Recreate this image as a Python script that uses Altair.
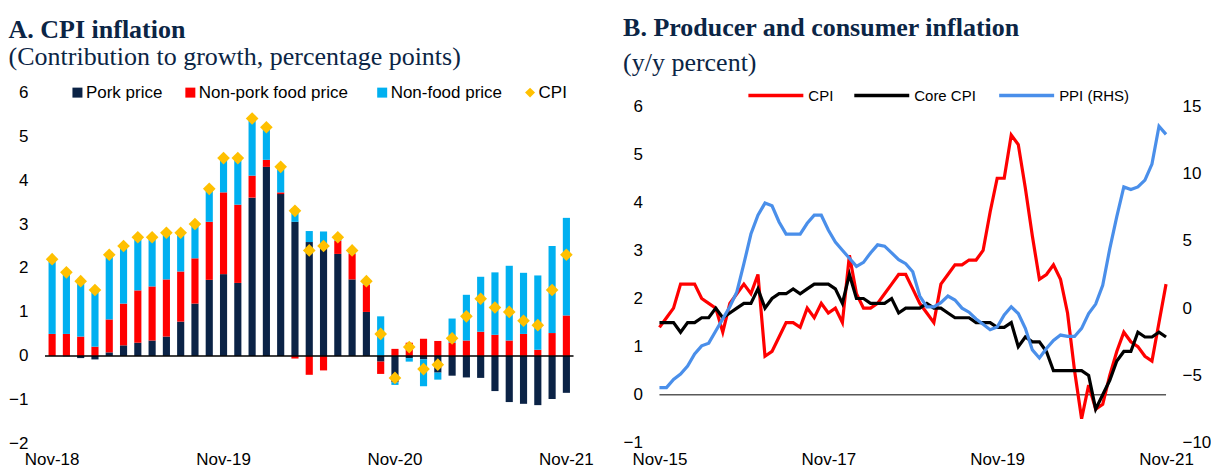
import altair as alt
import pandas as pd

# ---------------- Panel A data (Nov-18 .. Nov-21) ----------------
MON = ["Jan", "Feb", "Mar", "Apr", "May", "Jun", "Jul", "Aug", "Sep", "Oct", "Nov", "Dec"]
months_left = []
for k in range(37):
    m = (10 + k) % 12
    yr = 18 + (10 + k) // 12
    months_left.append(f"{MON[m]}-{yr:02d}")
left_tick_labels = ["Nov-18", "Nov-19", "Nov-20", "Nov-21"]

pork = [0.0, -0.01, -0.05, -0.08, 0.08, 0.24, 0.30, 0.35, 0.44, 0.78, 1.19, 1.73, 1.86,
        1.66, 3.60, 4.30, 3.68, 3.05, 2.59, 2.50, 2.32, 1.74, 1.00, -0.13, -0.60, -0.05,
        -0.08, -0.38, -0.45, -0.49, -0.50, -0.80, -1.05, -1.09, -1.12, -0.98, -0.84]
nonpork_food = [0.50, 0.50, 0.44, 0.21, 0.75, 0.95, 1.19, 1.23, 1.30, 1.14, 1.03, 1.32, 1.86,
                1.78, 0.50, 0.16, 0.04, -0.06, -0.43, -0.33, 0.30, 0.58, 0.62, -0.28, 0.16, 0.30,
                0.39, 0.34, 0.30, 0.35, 0.55, 0.48, 0.35, 0.50, 0.14, 0.52, 0.92]
nonfood = [1.68, 1.38, 1.28, 1.33, 1.45, 1.28, 1.18, 1.09, 1.03, 0.85, 0.75, 0.72, 0.75,
           1.03, 1.27, 0.71, 0.55, 0.31, 0.25, 0.33, 0.08, 0.08, 0.08, 0.90, -0.06, -0.08,
           -0.61, -0.16, 0.55, 1.04, 1.25, 1.42, 1.70, 1.39, 1.69, 1.98, 2.22]
cpi_left = [2.2, 1.9, 1.7, 1.5, 2.3, 2.5, 2.7, 2.7, 2.8, 2.8, 3.0, 3.8, 4.5,
            4.5, 5.4, 5.2, 4.3, 3.3, 2.4, 2.5, 2.7, 2.4, 1.7, 0.5, -0.5, 0.2,
            -0.3, -0.2, 0.4, 0.9, 1.3, 1.1, 1.0, 0.8, 0.7, 1.5, 2.3]

series_left = ["Pork price", "Non-pork food price", "Non-food price", "CPI"]
colors_left = ["#0B2346", "#FF0000", "#00B0F0", "#FFC000"]

# ---------------- Panel B data (Nov-15 .. Nov-21, monthly) ----------------
cpi = [1.4, 1.6,
       1.8, 2.3, 2.3, 2.3, 2.0, 1.9, 1.8, 1.3, 1.9, 2.1, 2.3, 2.1,
       2.5, 0.8, 0.9, 1.2, 1.5, 1.5, 1.4, 1.8, 1.6, 1.9, 1.7, 1.8,
       1.5, 2.9, 2.1, 1.8, 1.8, 1.9, 2.1, 2.3, 2.5, 2.5, 2.2, 1.9,
       1.7, 1.5, 2.3, 2.5, 2.7, 2.7, 2.8, 2.8, 3.0, 3.8, 4.5, 4.5,
       5.4, 5.2, 4.3, 3.3, 2.4, 2.5, 2.7, 2.4, 1.7, 0.5, -0.5, 0.2,
       -0.3, -0.2, 0.4, 0.9, 1.3, 1.1, 1.0, 0.8, 0.7, 1.5, 2.3]
core_cpi = [1.5, 1.5,
            1.5, 1.3, 1.5, 1.5, 1.6, 1.6, 1.8, 1.6, 1.7, 1.8, 1.9, 1.9,
            2.2, 1.8, 2.0, 2.1, 2.1, 2.2, 2.1, 2.2, 2.3, 2.3, 2.3, 2.2,
            1.9, 2.5, 2.0, 2.0, 1.9, 1.9, 1.9, 2.0, 1.7, 1.8, 1.8, 1.8,
            1.9, 1.8, 1.8, 1.7, 1.6, 1.6, 1.6, 1.5, 1.5, 1.5, 1.4, 1.4,
            1.5, 1.0, 1.2, 1.1, 1.1, 0.9, 0.5, 0.5, 0.5, 0.5, 0.5, 0.4,
            -0.3, 0.0, 0.3, 0.7, 0.9, 0.9, 1.3, 1.2, 1.2, 1.3, 1.2]
ppi = [-5.9, -5.9,
       -5.3, -4.9, -4.3, -3.4, -2.8, -2.6, -1.7, -0.8, 0.1, 1.2, 3.3, 5.5,
       6.9, 7.8, 7.6, 6.4, 5.5, 5.5, 5.5, 6.3, 6.9, 6.9, 5.8, 4.9,
       4.3, 3.7, 3.1, 3.4, 4.1, 4.7, 4.6, 4.1, 3.6, 3.3, 2.7, 0.9,
       0.1, 0.1, 0.4, 0.9, 0.6, 0.0, -0.3, -0.8, -1.2, -1.6, -1.4, -0.5,
       0.1, -0.4, -1.5, -3.1, -3.7, -3.0, -2.4, -2.0, -2.1, -2.1, -1.5, -0.4,
       0.3, 1.7, 4.4, 6.8, 9.0, 8.8, 9.0, 9.5, 10.7, 13.5, 12.9]
right_tick_labels = ["Nov-15", "Nov-17", "Nov-19", "Nov-21"]
series_right = ["CPI", "Core CPI", "PPI (RHS)"]
colors_right = ["#FF0000", "#000000", "#4A8FEA"]

NAVY = "#0B2545"
LABEL_FONT = "Liberation Sans"
TITLE_FONT = "Liberation Serif"

# ---------------- Panel A ----------------
rows = []
for i, mth in enumerate(months_left):
    for k, vals in enumerate([pork, nonpork_food, nonfood]):
        rows.append({"month": mth, "series": series_left[k], "value": vals[i], "order": k})
bars_df = pd.DataFrame(rows)
cpi_df = pd.DataFrame({"month": months_left, "series": series_left[3], "value": cpi_left})

LEFT_LEGEND_X = [24, 137, 329, 477]


def left_color(k, shape):
    return alt.Color("series:N",
                     scale=alt.Scale(domain=[series_left[k]], range=[colors_left[k]]),
                     legend=alt.Legend(orient="none", legendX=LEFT_LEGEND_X[k], legendY=-8,
                                       title=None, symbolType=shape, symbolSize=100,
                                       symbolStrokeWidth=0, labelFont=LABEL_FONT,
                                       labelFontSize=17, labelColor="#000000",
                                       labelOffset=0, labelLimit=300))


x_left = alt.X("month:O", sort=months_left,
               scale=alt.Scale(domain=months_left, paddingInner=0.5, paddingOuter=0.25),
               axis=alt.Axis(values=left_tick_labels, labelAngle=0, title=None, domain=False,
                             ticks=False, labelPadding=8))
y_axis_left = alt.Axis(values=list(range(-2, 7)), grid=False, domain=False, ticks=False,
                       title=None, labelPadding=17)
y_scale_left = alt.Scale(domain=[-2, 6], nice=False)

stacked = alt.Chart(bars_df).transform_stack(
    stack="value", groupby=["month"], as_=["v0", "v1"],
    sort=[alt.SortField("order", order="ascending")])

bar_layers = []
for k in range(3):
    bar_layers.append(
        stacked.transform_filter(alt.datum.series == series_left[k]).mark_bar().encode(
            x=x_left,
            y=alt.Y("v0:Q", scale=y_scale_left, axis=y_axis_left),
            y2="v1:Q",
            color=left_color(k, "square")))

zero_left = alt.Chart(pd.DataFrame({"value": [0]})).mark_rule(
    color="#000000", strokeWidth=1.5).encode(y=alt.Y("value:Q", scale=y_scale_left))
diamonds = alt.Chart(cpi_df).mark_point(filled=True, size=160, opacity=1, shape="diamond").encode(
    x=alt.X("month:O", sort=months_left),
    y=alt.Y("value:Q", scale=y_scale_left),
    color=left_color(3, "diamond"))

left_chart = alt.layer(*bar_layers, zero_left, diamonds).resolve_scale(
    color="independent").properties(
    width=529, height=352,
    title=alt.TitleParams(text="A. CPI inflation",
                          subtitle="(Contribution to growth, percentage points)",
                          anchor="start", frame="bounds",
                          font=TITLE_FONT, fontSize=26, fontWeight="bold", color=NAVY,
                          subtitleFont=TITLE_FONT, subtitleFontSize=26, subtitleColor=NAVY,
                          subtitlePadding=1, offset=13))

# ---------------- Panel B ----------------
idx = list(range(len(cpi)))
cpi_r = pd.DataFrame({"i": idx, "value": cpi, "series": series_right[0]})
core_r = pd.DataFrame({"i": idx, "value": core_cpi, "series": series_right[1]})
ppi_r = pd.DataFrame({"i": idx, "value": ppi, "series": series_right[2]})

label_expr = "[" + ",".join(f"'{t}'" for t in right_tick_labels) + "][round(datum.value/24)]"
x_right = alt.X("i:Q", scale=alt.Scale(domain=[0, 72], nice=False, zero=False),
                axis=alt.Axis(values=[0, 24, 48, 72], labelExpr=label_expr, grid=False,
                              labelFlush=False, domain=False, ticks=False, title=None,
                              labelPadding=9))
# plot area is 14px taller than the -1..6 span so that its top sits 14px above the "6" label
LHS_TOP = 6 + 14 / (337 / 7)
RHS_TOP = 15 + 14 / (337 / 25)
y_lhs = alt.Y("value:Q", scale=alt.Scale(domain=[-1, LHS_TOP], nice=False),
              axis=alt.Axis(values=list(range(-1, 7)), orient="left", grid=False, domain=False,
                            ticks=False, title=None, labelPadding=17))
y_rhs = alt.Y("value:Q", scale=alt.Scale(domain=[-10, RHS_TOP], nice=False),
              axis=alt.Axis(values=[-10, -5, 0, 5, 10, 15], orient="right", grid=False,
                            domain=False, ticks=False, title=None, labelPadding=16))


def line_color(k, lx):
    return alt.Color("series:N",
                     scale=alt.Scale(domain=[series_right[k]], range=[colors_right[k]]),
                     legend=alt.Legend(orient="none", legendX=lx, legendY=-4,
                                       title=None, symbolType="M-5.5,0H5.5", symbolSize=100,
                                       symbolStrokeWidth=3.5, labelFont=LABEL_FONT,
                                       labelFontSize=15, labelColor="#000000",
                                       labelOffset=25, labelLimit=300))


zero_right = alt.Chart(pd.DataFrame({"value": [0]})).mark_rule(
    color="#595959", strokeWidth=1.5).encode(y=y_lhs)
line_cpi = alt.Chart(cpi_r).mark_line(strokeWidth=3.2).encode(
    x=x_right, y=y_lhs, color=line_color(0, 109))
line_core = alt.Chart(core_r).mark_line(strokeWidth=3.2).encode(
    x=x_right, y=y_lhs, color=line_color(1, 215))
line_ppi = alt.Chart(ppi_r).mark_line(strokeWidth=3.2).encode(
    x=x_right, y=y_rhs, color=line_color(2, 360))

lhs_layer = alt.layer(zero_right, line_cpi, line_core).resolve_scale(color="independent")
right_chart = alt.layer(lhs_layer, line_ppi).resolve_scale(
    y="independent", color="independent").properties(
    width=507, height=351,
    title=alt.TitleParams(text="B. Producer and consumer inflation",
                          subtitle="(y/y percent)",
                          anchor="start", frame="bounds",
                          font=TITLE_FONT, fontSize=26, fontWeight="bold", color=NAVY,
                          subtitleFont=TITLE_FONT, subtitleFontSize=26, subtitleColor=NAVY,
                          subtitlePadding=8.5, offset=12.5))

chart = alt.hconcat(left_chart, right_chart, spacing=29).resolve_scale(
    color="independent").resolve_legend(color="independent").properties(
    padding={"left": 0, "top": 7, "right": 0, "bottom": 0},
    background="white",
).configure_view(stroke=None).configure_axis(
    labelFont=LABEL_FONT, labelFontSize=17, labelColor="#000000")

chart.save("out.html", embed_options={"renderer": "svg", "actions": False})
